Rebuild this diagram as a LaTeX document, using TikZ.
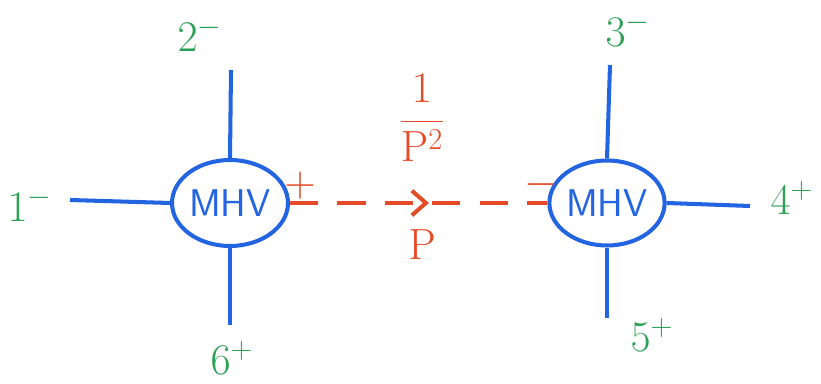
\documentclass[tikz,border=0pt]{standalone}
\usetikzlibrary{shapes.geometric,decorations.markings,arrows.meta}
\definecolor{mhvblue}{RGB}{35,100,225}
\definecolor{extgreen}{RGB}{45,160,85}
\definecolor{propred}{RGB}{230,75,40}
\begin{document}
\begin{tikzpicture}[x=0.02cm, y=-0.02cm,
    leg/.style={draw=mhvblue, line width=2.3pt},
    blob/.style={ellipse, draw=mhvblue, line width=2.3pt, text=mhvblue, inner sep=0pt,
      font=\sffamily\fontsize{22}{24}\selectfont},
    ext/.style={text=extgreen, font=\fontsize{23}{25}\selectfont},
    redlab/.style={text=propred, font=\fontsize{23}{25}\selectfont},
    prop/.style={draw=propred, line width=2.3pt, dash pattern=on 16pt off 11pt}]
    \useasboundingbox (0,0) rectangle (821,384);
    % the two MHV vertices
    \node[blob, minimum width=2.32cm, minimum height=1.72cm] (L) at (230,203) {MHV};
    \node[blob, minimum width=2.14cm, minimum height=1.70cm] (R) at (607,203) {MHV};
    % free ends of the external legs
    \coordinate (l1) at (70,200);
    \coordinate (l2) at (231,70);
    \coordinate (l6) at (230,325);
    \coordinate (r3) at (610,65);
    \coordinate (r4) at (750,206);
    \coordinate (r5) at (607,318);
    \draw[leg] (l1) -- (L.west);
    \draw[leg] (l2) -- (L.north);
    \draw[leg] (l6) -- (L.south);
    \draw[leg] (r3) -- (R.north);
    \draw[leg] (r4) -- (R.east);
    \draw[leg] (r5) -- (R.south);
    % external labels
    \node[ext] (n1) at (30,205) {$1^-$};
    \node[ext] (n2) at (200,35) {$2^-$};
    \node[ext] (n3) at (628,30) {$3^-$};
    \node[ext] (n4) at (792,198) {$4^+$};
    \node[ext] (n5) at (652,335) {$5^+$};
    \node[ext] (n6) at (232,358) {$6^+$};
    % propagator
    \draw[prop, postaction={decorate, decoration={markings,
      mark=at position 0.54 with {\arrow[propred, solid]{Straight Barb[length=8pt, width=14pt, line width=2.3pt]}}}}]
      (L.east) -- (R.west);
    \node[redlab] (hl) at (300,186) {$+$};
    \node[redlab] (hr) at (541,185) {$-$};
    \node[redlab] (frac) at (422,118) {$\displaystyle\frac{1}{\mathrm{P}^2}$};
    \node[redlab] (mom) at (422,245) {$\mathrm{P}$};
\end{tikzpicture}
\end{document}
